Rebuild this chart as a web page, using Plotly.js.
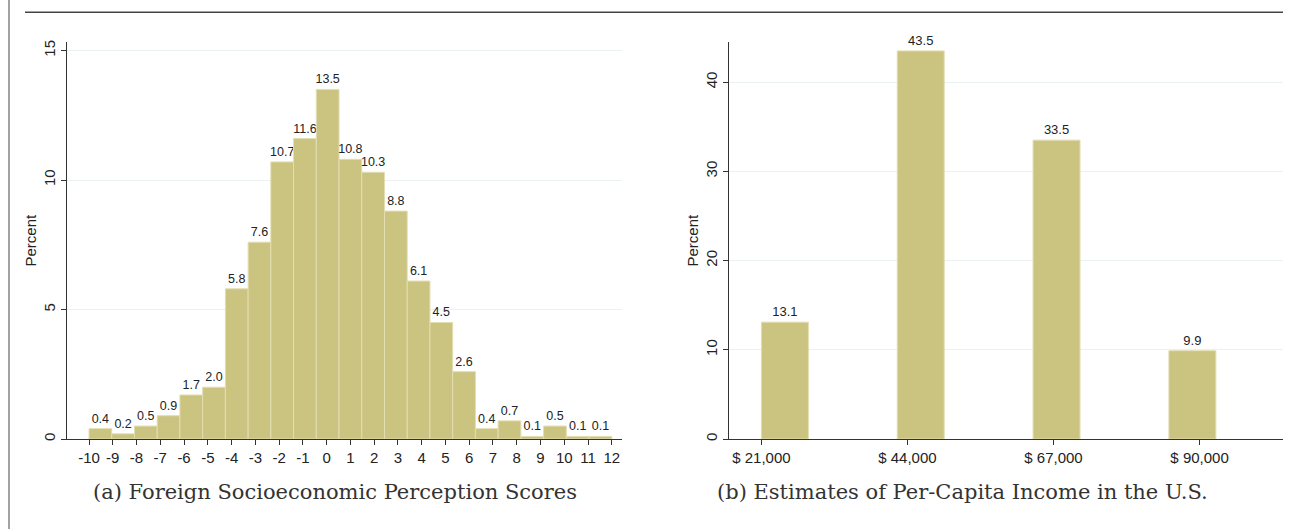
<!DOCTYPE html>
<html>
<head>
<meta charset="utf-8">
<script src="https://cdn.plot.ly/plotly-3.0.1.min.js"></script>
<style>html,body{margin:0;padding:0;background:#fff;}#chart{width:1294px;height:529px;}</style>
</head>
<body>
<div id="chart"></div>
<script>
// ---- Data: (a) Foreign Socioeconomic Perception Scores (histogram, percent) ----
const scoreBinStart = -10;
const scoreBinEnd = 12;
const scorePercents = [0.4, 0.2, 0.5, 0.9, 1.7, 2.0, 5.8, 7.6, 10.7, 11.6, 13.5, 10.8,
                       10.3, 8.8, 6.1, 4.5, 2.6, 0.4, 0.7, 0.1, 0.5, 0.1, 0.1];
const scoreTicks = [-10,-9,-8,-7,-6,-5,-4,-3,-2,-1,0,1,2,3,4,5,6,7,8,9,10,11,12];

// ---- Data: (b) Estimates of Per-Capita Income in the U.S. ----
const incomeValues = [21000, 44000, 67000, 90000];
const incomePercents = [13.1, 43.5, 33.5, 9.9];
const incomeTickLabels = ["$ 21,000", "$ 44,000", "$ 67,000", "$ 90,000"];

// ---- Captions ----
const captionA = "(a) Foreign Socioeconomic Perception Scores";
const captionB = "(b) Estimates of Per-Capita Income in the U.S.";

// ---- Histogram binning (Stata-style) ----
const scoreBinWidth = (scoreBinEnd - scoreBinStart) / scorePercents.length;
const scoreBinLefts = scorePercents.map((_, i) => scoreBinStart + i * scoreBinWidth);

const incomeBinStart = 21000;
const incomeBinWidth = 21390;
const incomeBarWidth = 7400;
const incomeBinLefts = incomeValues.map(v => incomeBinStart + Math.floor((v - incomeBinStart) / incomeBinWidth) * incomeBinWidth);

// ---- Styling ----
const W = 1294, H = 529;
const px = v => v / W;
const py = v => (H - v) / H;
const barFill = '#CBC380';
const barLine = '#E2DEB2';
const gridCol = '#EAF1F3';
const axisCol = '#333333';
const sans = 'Liberation Sans, Arial, sans-serif';
const serif = 'DejaVu Serif, serif';

const traceA = {
  type: 'bar', x: scoreBinLefts, y: scorePercents,
  width: scorePercents.map(() => scoreBinWidth), offset: 0,
  marker: {color: barFill, line: {color: barLine, width: 1}},
  text: scorePercents.map(v => v.toFixed(1)), textposition: 'outside',
  constraintext: 'none', cliponaxis: false,
  textfont: {family: sans, size: 12.5, color: '#222'},
  xaxis: 'x', yaxis: 'y', hoverinfo: 'x+y', showlegend: false
};
const traceB = {
  type: 'bar', x: incomeBinLefts, y: incomePercents,
  width: incomeValues.map(() => incomeBarWidth), offset: 0,
  marker: {color: barFill, line: {color: barLine, width: 1}},
  text: incomePercents.map(v => v.toFixed(1)), textposition: 'outside',
  constraintext: 'none', cliponaxis: false,
  textfont: {family: sans, size: 13, color: '#222'},
  xaxis: 'x2', yaxis: 'y2', hoverinfo: 'x+y', showlegend: false
};

const yDomain = [py(439), py(42)];
const commonAxis = {
  showline: true, linecolor: axisCol, linewidth: 1,
  ticks: 'outside', ticklen: 5, tickcolor: axisCol, tickwidth: 1,
  tickfont: {family: sans, size: 15, color: '#222'},
  zeroline: false, fixedrange: true
};

const layout = {
  width: W, height: H,
  margin: {l: 0, r: 0, t: 0, b: 0},
  paper_bgcolor: '#fff', plot_bgcolor: '#fff',
  bargap: 0, showlegend: false,
  xaxis: Object.assign({}, commonAxis, {
    domain: [px(67), px(622)], range: [-10.926, 12.43],
    tickmode: 'array', tickvals: scoreTicks, ticktext: scoreTicks.map(String),
    showgrid: false, anchor: 'y'
  }),
  yaxis: Object.assign({}, commonAxis, {
    domain: yDomain, range: [0, 15.33],
    tickmode: 'array', tickvals: [0, 5, 10, 15], tickangle: -90,
    showgrid: true, gridcolor: gridCol, gridwidth: 1, anchor: 'x'
  }),
  xaxis2: Object.assign({}, commonAxis, {
    domain: [px(729), px(1283)], range: [15900, 103140],
    tickmode: 'array', tickvals: incomeValues, ticktext: incomeTickLabels,
    showgrid: false, anchor: 'y2'
  }),
  yaxis2: Object.assign({}, commonAxis, {
    domain: yDomain, range: [0, 44.5],
    tickmode: 'array', tickvals: [0, 10, 20, 30, 40], tickangle: -90,
    showgrid: true, gridcolor: gridCol, gridwidth: 1, anchor: 'x2'
  }),
  annotations: [
    {text: 'Percent', xref: 'paper', yref: 'paper', x: px(30), y: py(240.5), textangle: -90,
     showarrow: false, xanchor: 'center', yanchor: 'middle', font: {family: sans, size: 15, color: '#222'}},
    {text: 'Percent', xref: 'paper', yref: 'paper', x: px(692), y: py(240.5), textangle: -90,
     showarrow: false, xanchor: 'center', yanchor: 'middle', font: {family: sans, size: 15, color: '#222'}},
    {text: captionA, xref: 'paper', yref: 'paper', x: px(334.5), y: py(492),
     showarrow: false, xanchor: 'center', yanchor: 'middle', font: {family: serif, size: 21, color: '#333'}},
    {text: captionB, xref: 'paper', yref: 'paper', x: px(962), y: py(492),
     showarrow: false, xanchor: 'center', yanchor: 'middle', font: {family: serif, size: 21, color: '#333'}}
  ],
  shapes: [
    {type: 'line', xref: 'paper', yref: 'paper', x0: px(9), x1: px(9), y0: 0, y1: 1,
     line: {color: '#444', width: 1}},
    {type: 'line', xref: 'paper', yref: 'paper', x0: px(25), x1: px(1283), y0: py(12.3), y1: py(12.3),
     line: {color: '#444', width: 1.6}}
  ]
};

Plotly.newPlot('chart', [traceA, traceB], layout, {displayModeBar: false, staticPlot: true});
</script>
</body>
</html>
